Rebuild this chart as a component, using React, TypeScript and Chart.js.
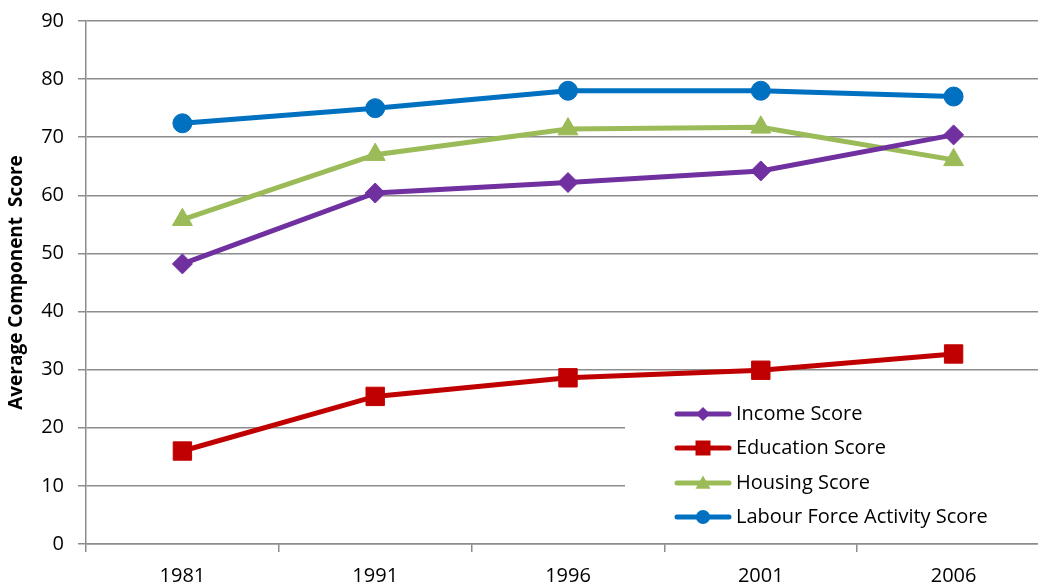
import React, { useEffect, useRef } from "react";
import { Chart, registerables } from "chart.js";

Chart.register(...registerables);

const years = ["1981", "1991", "1996", "2001", "2006"];
const incomeScore = [48.2, 60.4, 62.2, 64.2, 70.4];
const educationScore = [16.0, 25.4, 28.6, 29.9, 32.7];
const housingScore = [55.8, 67.0, 71.4, 71.7, 66.1];
const labourScore = [72.4, 75.0, 78.0, 78.0, 77.0];
const yTicks = [0, 10, 20, 30, 40, 50, 60, 70, 80, 90];

const FONT = "'Open Sans', 'Noto Sans', sans-serif";

function drawMarker(ctx: CanvasRenderingContext2D, style: string, x: number, y: number, s: number) {
  ctx.beginPath();
  if (style === "circle") {
    ctx.arc(x, y, s, 0, Math.PI * 2);
  } else if (style === "rect") {
    ctx.rect(x - s, y - s, 2 * s, 2 * s);
  } else if (style === "rectRot") {
    ctx.moveTo(x, y - s);
    ctx.lineTo(x + s, y);
    ctx.lineTo(x, y + s);
    ctx.lineTo(x - s, y);
    ctx.closePath();
  } else if (style === "triangle") {
    ctx.moveTo(x, y - s);
    ctx.lineTo(x + s, y + s * 0.75);
    ctx.lineTo(x - s, y + s * 0.75);
    ctx.closePath();
  }
  ctx.fill();
}

const legendPlugin = {
  id: "insideLegend",
  afterDraw(chart: any) {
    const ctx = chart.ctx as CanvasRenderingContext2D;
    ctx.save();
    ctx.fillStyle = "#ffffff";
    ctx.fillRect(625, 396, chart.width - 625, 140);
    const items = [
      { label: "Income Score", color: "#7030A0", style: "rectRot", size: 7, y: 414 },
      { label: "Education Score", color: "#C00000", style: "rect", size: 7.5, y: 448 },
      { label: "Housing Score", color: "#9BBB59", style: "triangle", size: 7.5, y: 483 },
      { label: "Labour Force Activity Score", color: "#0070C0", style: "circle", size: 7, y: 517 },
    ];
    for (const it of items) {
      ctx.strokeStyle = it.color;
      ctx.lineWidth = 5;
      ctx.lineCap = "round";
      ctx.beginPath();
      ctx.moveTo(677, it.y);
      ctx.lineTo(729, it.y);
      ctx.stroke();
      ctx.fillStyle = it.color;
      drawMarker(ctx, it.style, 703, it.y, it.size);
      ctx.fillStyle = "#000000";
      ctx.font = `20px ${FONT}`;
      ctx.textBaseline = "middle";
      ctx.textAlign = "left";
      ctx.fillText(it.label, 736, it.y);
    }
    ctx.restore();
  },
};

export default function App() {
  const canvasRef = useRef<HTMLCanvasElement | null>(null);

  useEffect(() => {
    const canvas = canvasRef.current;
    if (!canvas) return;
    const ds = (label: string, data: number[], color: string, style: string, r: number) => ({
      label,
      data,
      borderColor: color,
      backgroundColor: color,
      borderWidth: 5,
      pointStyle: style,
      pointRadius: r,
      pointHoverRadius: r,
      pointBorderWidth: 1,
      pointBorderColor: color,
      pointBackgroundColor: color,
      tension: 0,
    });
    const zeroPad = (scale: any) => {
      scale.paddingLeft = 0;
      scale.paddingRight = 0;
      scale.paddingTop = 0;
      scale.paddingBottom = 0;
    };
    const chart = new Chart(canvas, {
      type: "line",
      data: {
        labels: years,
        datasets: [
          ds("Income Score", incomeScore, "#7030A0", "rectRot", 10),
          ds("Education Score", educationScore, "#C00000", "rect", 13),
          ds("Housing Score", housingScore, "#9BBB59", "triangle", 11.5),
          ds("Labour Force Activity Score", labourScore, "#0070C0", "circle", 9.5),
        ],
      },
      options: {
        responsive: false,
        animation: false,
        layout: { padding: { top: 21, right: 0, left: 0, bottom: 0 } },
        plugins: {
          legend: { display: false },
          tooltip: { enabled: false },
        },
        scales: {
          x: {
            type: "category",
            offset: true,
            afterFit: (scale: any) => {
              scale.height = 43;
              zeroPad(scale);
            },
            grid: {
              offset: true,
              drawOnChartArea: false,
              drawTicks: true,
              tickLength: 8,
              color: "#8c8c8c",
              lineWidth: 1.5,
            },
            border: { display: true, color: "#8c8c8c", width: 1.5 },
            ticks: {
              color: "#000000",
              font: { family: FONT, size: 20 },
              padding: 12,
              maxRotation: 0,
            },
          },
          y: {
            min: 0,
            max: 90,
            afterFit: (scale: any) => {
              scale.width = 86;
              zeroPad(scale);
            },
            afterBuildTicks: (scale: any) => {
              scale.ticks = yTicks.map((v) => ({ value: v }));
            },
            grid: {
              color: "#8c8c8c",
              lineWidth: 1.5,
              drawTicks: true,
              tickLength: 8,
            },
            border: { display: true, color: "#8c8c8c", width: 1.5 },
            ticks: {
              color: "#000000",
              font: { family: FONT, size: 20 },
              padding: 14,
            },
            title: {
              display: true,
              text: "Average Component  Score",
              color: "#000000",
              font: { family: FONT, size: 19, weight: "bold" },
              padding: { top: 5, bottom: 0 },
            },
          },
        },
      },
      plugins: [legendPlugin],
    });
    return () => chart.destroy();
  }, []);

  return (
    <div
      style={{
        position: "fixed",
        left: 0,
        top: 0,
        width: 1038,
        height: 587,
        overflow: "hidden",
        background: "#ffffff",
      }}
    >
      <canvas ref={canvasRef} width={1064} height={587} style={{ display: "block" }} />
    </div>
  );
}
